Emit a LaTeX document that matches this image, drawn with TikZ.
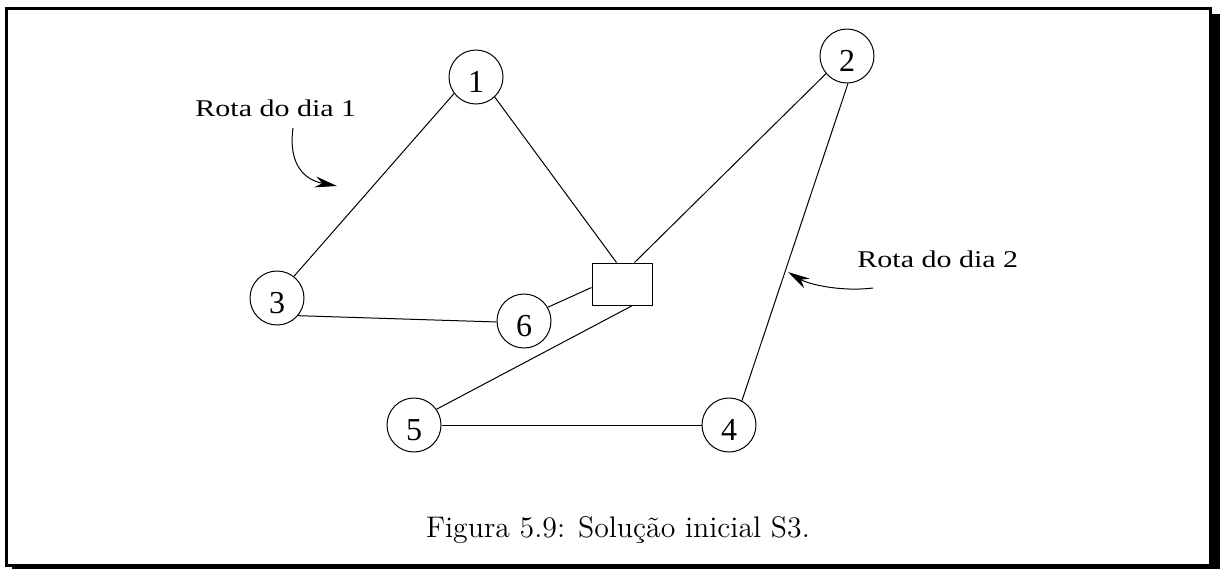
\documentclass[tikz,border=0pt]{standalone}
\usepackage{fontspec}
\newfontfamily\labfont[FakeStretch=1.25]{Liberation Serif}
\newfontfamily\numfont{Liberation Serif}
\usetikzlibrary{arrows.meta,calc}
\begin{document}
\begin{tikzpicture}[x=0.5pt,y=-0.5pt,
  city/.style={circle,draw,line width=0.5pt,minimum size=27pt,inner sep=0pt},
  depot/.style={rectangle,draw,line width=0.5pt,minimum width=30pt,minimum height=21pt,inner sep=0pt},
  edge/.style={line width=0.5pt},
  pointer/.style={line width=0.5pt,-{Stealth[length=11pt,width=5.5pt,inset=3.5pt]}},
  routelabel/.style={font=\labfont\fontsize{12}{14}\selectfont,anchor=base west,inner sep=0pt},
  num/.style={font=\numfont\fontsize{16}{18}\selectfont,yshift=-2.5pt}]
\useasboundingbox (0,0) rectangle (1220,569);
% frame with shadow
\draw[line width=1.5pt] (6.5,8.5) rectangle (1210.5,565.5);
\fill (1209,14) rectangle (1220,569);
\fill (12,564) rectangle (1220,569);
% nodes
\node[city,label={[num]center:1}] (n1) at (476,77) {};
\node[city,label={[num]center:2}] (n2) at (847,56) {};
\node[city,label={[num]center:3}] (n3) at (277,298) {};
\node[city,label={[num]center:4}] (n4) at (729,425) {};
\node[city,label={[num]center:5}] (n5) at (414,425) {};
\node[city,label={[num]center:6}] (n6) at (524,321) {};
\node[depot] (box) at (622,284) {};
% edges
\draw[edge] (n1.217) -- (n3.52);
\draw[edge] (n1.-47) -- ($(box.north west)+(25,0)$);
\draw[edge] (n3.-40) -- (n6.182);
\draw[edge] (n6.30) -- ($(box.north west)+(0,25)$);
\draw[edge] (n2.-140) -- ($(box.north west)+(43,0)$);
\draw[edge] (n2.-88) -- (n4.62);
\draw[edge] ($(box.south west)+(41,0)$) -- (n5.35);
\draw[edge] (n5.0) -- (n4.180);
% labels
\node[routelabel] (r1) at (195,116) {Rota do dia 1};
\node[routelabel] (r2) at (857,267) {Rota do dia 2};
\coordinate (a1s) at (293,128);
\coordinate (a1e) at (337,186);
\coordinate (a2s) at (873,288);
\coordinate (a2e) at (788,272);
\draw[pointer] (a1s) .. controls (288,165) and (305,180) .. (a1e);
\draw[pointer] (a2s) .. controls (840,292) and (808,284) .. (a2e);
% caption
\node[anchor=base,inner sep=0pt,font=\fontsize{14.9}{18}\selectfont] (cap) at (618,537) {Figura 5.9: Solução inicial S3.};
\end{tikzpicture}
\end{document}
